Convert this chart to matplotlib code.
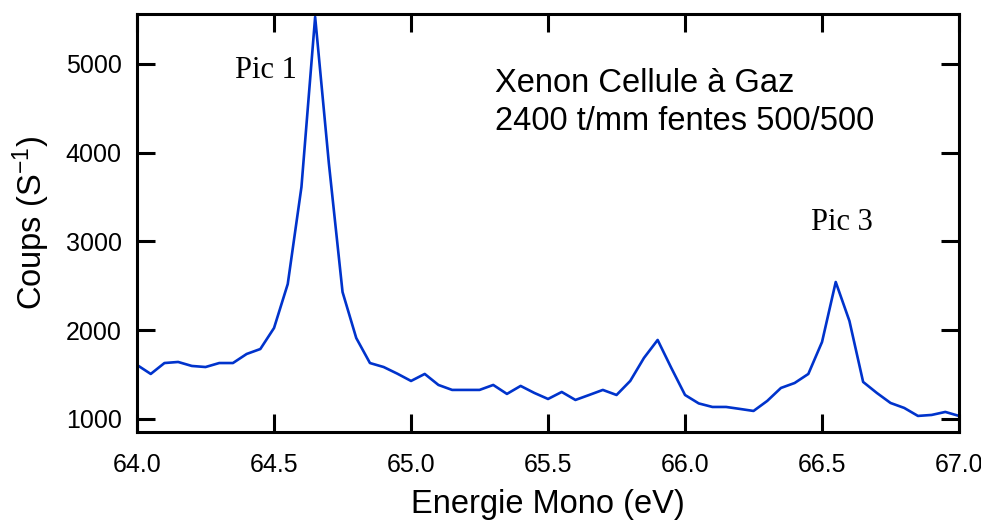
import matplotlib.pyplot as plt
from matplotlib.ticker import FormatStrFormatter

plt.rcParams['font.family'] = ['Liberation Sans', 'DejaVu Sans']
plt.rcParams['mathtext.default'] = 'regular'

# Energie (eV), pas de 0.05 eV
energie = [64.00, 64.05, 64.10, 64.15, 64.20, 64.25, 64.30, 64.35, 64.40, 64.45,
           64.50, 64.55, 64.60, 64.65, 64.70, 64.75, 64.80, 64.85, 64.90, 64.95,
           65.00, 65.05, 65.10, 65.15, 65.20, 65.25, 65.30, 65.35, 65.40, 65.45,
           65.50, 65.55, 65.60, 65.65, 65.70, 65.75, 65.80, 65.85, 65.90, 65.95,
           66.00, 66.05, 66.10, 66.15, 66.20, 66.25, 66.30, 66.35, 66.40, 66.45,
           66.50, 66.55, 66.60, 66.65, 66.70, 66.75, 66.80, 66.85, 66.90, 66.95,
           67.00]
coups = [1608, 1507, 1630, 1642, 1597, 1585, 1630, 1630, 1732, 1788,
         2025, 2520, 3613, 5530, 3883, 2430, 1912, 1630, 1585, 1510,
         1428, 1507, 1383, 1327, 1327, 1327, 1383, 1282, 1372, 1293,
         1225, 1304, 1214, 1270, 1327, 1270, 1428, 1687, 1890, 1574,
         1270, 1175, 1135, 1135, 1113, 1090, 1203, 1349, 1405, 1507,
         1867, 2543, 2104, 1417, 1293, 1180, 1124, 1034, 1045, 1079,
         1034]

xticks = [64.0, 64.5, 65.0, 65.5, 66.0, 66.5, 67.0]
yticks = [1000, 2000, 3000, 4000, 5000]

fig = plt.figure(figsize=(9.81, 5.24), dpi=100)
ax = fig.add_axes([0.1397, 0.1756, 0.8379, 0.7977])

ax.plot(energie, coups, color='#0033cc', lw=1.9)

ax.set_xlim(64.0, 67.0)
ax.set_ylim(853, 5563)
ax.set_xticks(xticks)
ax.set_yticks(yticks)
ax.xaxis.set_major_formatter(FormatStrFormatter('%.1f'))

for s in ax.spines.values():
    s.set_linewidth(2.2)
ax.tick_params(direction='in', length=13, width=2.2, labelsize=18,
               top=True, right=True)
ax.tick_params(axis='x', pad=15)
ax.tick_params(axis='y', pad=11)

ax.set_xlabel('Energie Mono (eV)', fontsize=23.5, labelpad=9)
ax.set_ylabel('Coups (S$^{-1}$)', fontsize=23.5, labelpad=10)

ax.text(64.358, 4840, 'Pic 1', family=['Liberation Serif', 'DejaVu Serif'],
        fontsize=22, va='baseline')
ax.text(66.459, 3125, 'Pic 3', family=['Liberation Serif', 'DejaVu Serif'],
        fontsize=22, va='baseline')
ax.text(65.308, 4960, 'Xenon Cellule à Gaz\n2400 t/mm fentes 500/500',
        fontsize=23.5, va='top', linespacing=1.33)

fig.savefig('out.png', dpi=100)
